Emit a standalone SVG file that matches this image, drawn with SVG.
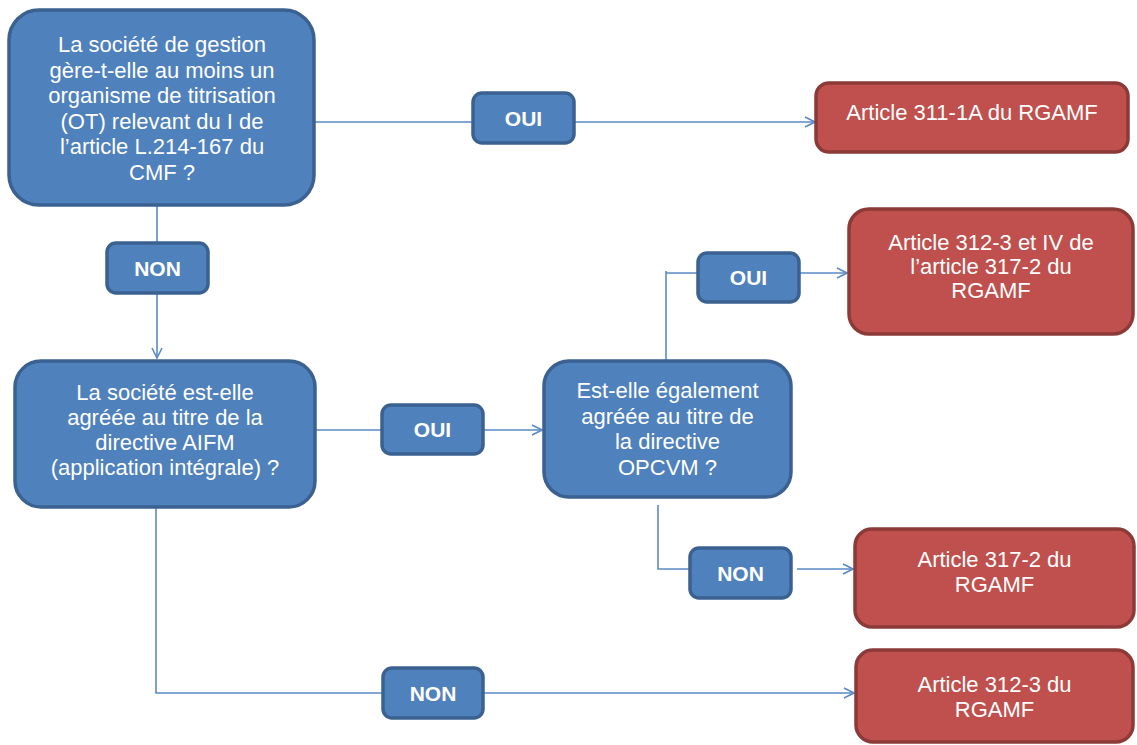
<svg xmlns="http://www.w3.org/2000/svg" width="1137" height="745" viewBox="0 0 1137 745">
<style>
.q{fill:#4f81bd;stroke:#3a6190;stroke-width:3.5}
.r{fill:#c0504d;stroke:#8c3a38;stroke-width:3.5}
.t{font-family:"Liberation Sans",Arial,sans-serif;font-size:22px;fill:#fff;text-anchor:middle}
.b{font-family:"Liberation Sans",Arial,sans-serif;font-size:21px;font-weight:bold;fill:#fff;text-anchor:middle}
.c{fill:none;stroke:#5a8ac6;stroke-width:1.6}
</style>
<defs>
<marker id="a" viewBox="0 0 12 12" refX="11" refY="6" markerWidth="12" markerHeight="12" markerUnits="userSpaceOnUse" orient="auto">
<path d="M1,1 L11,6 L1,11" fill="none" stroke="#5a8ac6" stroke-width="1.6"/>
</marker>
</defs>
<rect width="1137" height="745" fill="#fff"/>
<g id="connectors">
<path class="c" d="M314,122 H473"/>
<path class="c" d="M574,122 H815" marker-end="url(#a)"/>
<path class="c" d="M157,205 V243"/>
<path class="c" d="M157,293 V358" marker-end="url(#a)"/>
<path class="c" d="M315,430 H382"/>
<path class="c" d="M483,430 H542" marker-end="url(#a)"/>
<path class="c" d="M666,360 V271 M666,273 H698"/>
<path class="c" d="M799,273 H847" marker-end="url(#a)"/>
<path class="c" d="M658,505 V569 H690"/>
<path class="c" d="M797,569 H853" marker-end="url(#a)"/>
<path class="c" d="M156,507 V693 H383"/>
<path class="c" d="M483,693 H854" marker-end="url(#a)"/>
</g>
<g id="q1">
<rect class="q" x="9" y="10" width="305" height="195" rx="30"/>
<text class="t"><tspan x="162" y="52">La société de gestion</tspan><tspan x="162" y="77.5">gère-t-elle au moins un</tspan><tspan x="162" y="103">organisme de titrisation</tspan><tspan x="162" y="128.5">(OT) relevant du I de</tspan><tspan x="162" y="154">l’article L.214-167 du</tspan><tspan x="162" y="179.5">CMF ?</tspan></text>
</g>
<g id="oui1">
<rect class="q" x="473" y="93" width="101" height="50" rx="9"/>
<text class="b" x="523.5" y="126">OUI</text>
</g>
<g id="r1">
<rect class="r" x="816" y="83" width="312" height="69" rx="13"/>
<text class="t" x="972" y="120">Article 311-1A du RGAMF</text>
</g>
<g id="non1">
<rect class="q" x="107" y="243" width="101" height="50" rx="9"/>
<text class="b" x="157.5" y="276">NON</text>
</g>
<g id="q2">
<rect class="q" x="15" y="361" width="300" height="146" rx="26"/>
<text class="t"><tspan x="165" y="400">La société est-elle</tspan><tspan x="165" y="425">agréée au titre de la</tspan><tspan x="165" y="450">directive AIFM</tspan><tspan x="165" y="475">(application intégrale) ?</tspan></text>
</g>
<g id="oui2">
<rect class="q" x="382" y="405" width="101" height="49" rx="9"/>
<text class="b" x="432.5" y="437">OUI</text>
</g>
<g id="q3">
<rect class="q" x="544" y="361" width="247" height="136" rx="25"/>
<text class="t"><tspan x="667.5" y="398">Est-elle également</tspan><tspan x="667.5" y="424">agréée au titre de</tspan><tspan x="667.5" y="449">la directive</tspan><tspan x="667.5" y="475">OPCVM ?</tspan></text>
</g>
<g id="oui3">
<rect class="q" x="698" y="253" width="101" height="49" rx="9"/>
<text class="b" x="748.5" y="285">OUI</text>
</g>
<g id="r2">
<rect class="r" x="849" y="209" width="284" height="125" rx="20"/>
<text class="t"><tspan x="991" y="250">Article 312-3 et IV de</tspan><tspan x="991" y="274">l’article 317-2 du</tspan><tspan x="991" y="298">RGAMF</tspan></text>
</g>
<g id="non2">
<rect class="q" x="690" y="548" width="101" height="50" rx="9"/>
<text class="b" x="740.5" y="581">NON</text>
</g>
<g id="r3">
<rect class="r" x="855" y="529" width="279" height="98" rx="17"/>
<text class="t"><tspan x="994.5" y="567">Article 317-2 du</tspan><tspan x="994.5" y="592">RGAMF</tspan></text>
</g>
<g id="non3">
<rect class="q" x="383" y="668" width="100" height="50" rx="9"/>
<text class="b" x="433" y="701">NON</text>
</g>
<g id="r4">
<rect class="r" x="856" y="650" width="277" height="92" rx="17"/>
<text class="t"><tspan x="994.5" y="692">Article 312-3 du</tspan><tspan x="994.5" y="717">RGAMF</tspan></text>
</g>
</svg>
